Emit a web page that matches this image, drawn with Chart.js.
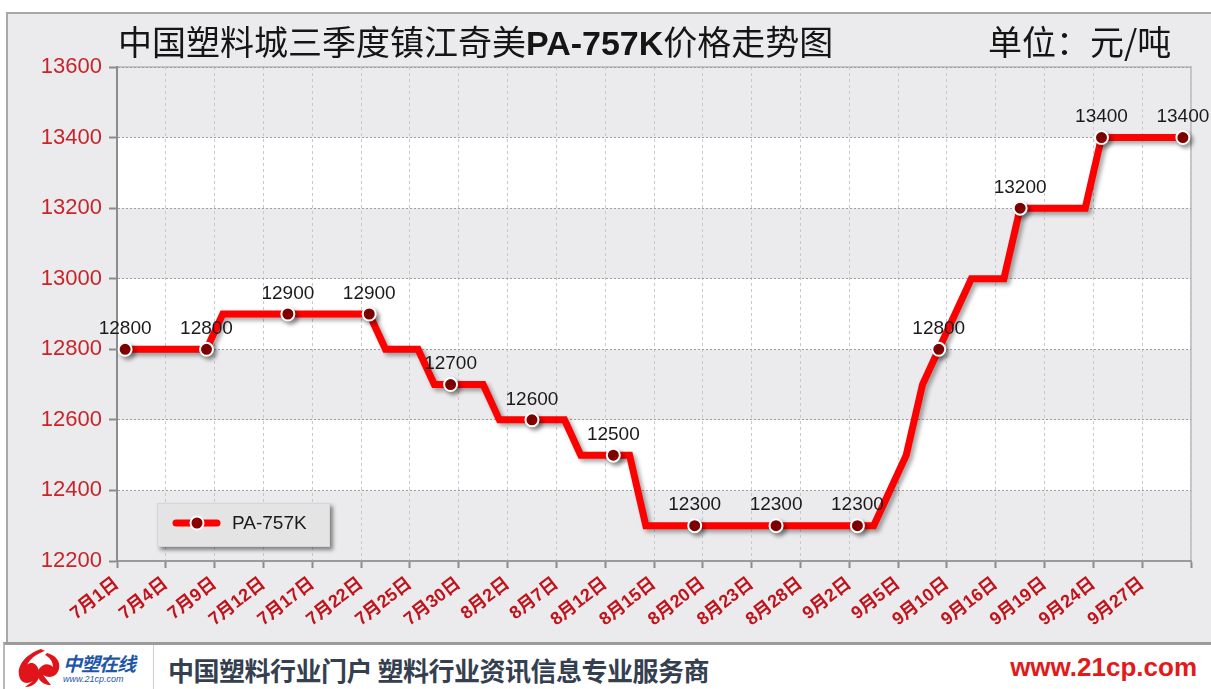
<!DOCTYPE html>
<html>
<head>
<meta charset="utf-8">
<script src="https://cdn.jsdelivr.net/npm/chart.js@4.4.1/dist/chart.umd.min.js"></script>
<style>
    html, body { margin: 0; padding: 0; background: #fff; }
    body { width: 1211px; height: 689px; position: relative; overflow: hidden; font-family: "Liberation Sans", Arial, "Noto Sans CJK SC", sans-serif; }
    .frame { position: absolute; left: 6px; top: 12px; width: 1210px; height: 631px; background: #EBEBED; border-left: 2px solid #A8A8A8; border-top: 2px solid #A8A8A8; box-sizing: border-box; }
    .chart-wrap { position: absolute; left: 0; top: 0; width: 1211px; height: 645px; }
    .title { position: absolute; left: 118px; top: 21px; font-size: 34px; line-height: 40px; color: #151515; font-family: "Noto Sans CJK SC", sans-serif; white-space: nowrap; }
    .title b { font-family: "Liberation Sans", Arial, sans-serif; font-weight: bold; }
    .unit { position: absolute; left: 988px; top: 21px; font-size: 34px; line-height: 40px; color: #151515; font-family: "Noto Sans CJK SC", sans-serif; white-space: nowrap; }
    .footer { position: absolute; left: 3px; top: 642px; width: 1208px; height: 47px; background: #fff; border-top: 3px solid #9C9C9C; border-left: 2px solid #B8B8B8; box-sizing: border-box; }
    .logo { position: absolute; left: 0; top: 0; width: 148px; height: 44px; border-right: 1px solid #CFCFCF; }
    .logo .cn { position: absolute; left: 58px; top: 4px; font-size: 19px; font-weight: bold; font-style: italic; color: #1F57A8; font-family: "Noto Sans CJK SC", sans-serif; letter-spacing: -1px; }
    .logo .url { position: absolute; left: 58px; top: 29px; font-size: 9px; font-style: italic; color: #1F57A8; }
    .slogan { position: absolute; left: 163px; top: 6px; font-size: 26px; font-weight: bold; color: #34404F; font-family: "Noto Sans CJK SC", sans-serif; white-space: nowrap; letter-spacing: -0.5px; }
    .site { position: absolute; right: 14px; top: 7px; font-size: 26px; font-weight: bold; color: #E21A1A; font-family: "Liberation Sans", Arial, sans-serif; }
</style>
</head>
<body>
<div class="frame"></div>
<div class="chart-wrap"><canvas id="priceChart"></canvas></div>
<div class="title">中国塑料城三季度镇江奇美<b>PA-757K</b>价格走势图</div>
<div class="unit">单位：元/吨</div>
<div class="footer">
    <div class="logo">
        <svg width="58" height="44" style="position:absolute;left:6px;top:0">
            <path d="M30 4 C18 8 6 18 8 30 C9 38 16 40 22 36 L14 42 C24 42 30 34 28 26 C26 18 20 16 16 20 C20 12 28 8 34 6 Z" fill="#E0151B"/>
            <path d="M36 8 C44 10 50 16 48 24 C46 32 38 34 32 30 L40 40 C30 40 24 32 28 24 C32 18 38 18 42 22 C42 16 38 12 34 10 Z" fill="#E0151B"/>
        </svg>
        <div class="cn">中塑在线</div>
        <div class="url">www.21cp.com</div>
    </div>
    <div class="slogan">中国塑料行业门户 塑料行业资讯信息专业服务商</div>
    <div class="site">www.21cp.com</div>
</div>
<script>
// =====================================================
// DATA
// =====================================================
const seriesName = 'PA-757K';

// one entry per trading day, 7/1 .. 9/30
const dates = [
    '7月1日', '7月2日', '7月3日', '7月4日', '7月5日', '7月8日', '7月9日', '7月10日', '7月11日', '7月12日',
    '7月15日', '7月16日', '7月17日', '7月18日', '7月19日', '7月22日', '7月23日', '7月24日', '7月25日', '7月26日',
    '7月29日', '7月30日', '7月31日', '8月1日', '8月2日', '8月5日', '8月6日', '8月7日', '8月8日', '8月9日',
    '8月12日', '8月13日', '8月14日', '8月15日', '8月16日', '8月19日', '8月20日', '8月21日', '8月22日', '8月23日',
    '8月26日', '8月27日', '8月28日', '8月29日', '8月30日', '9月2日', '9月3日', '9月4日', '9月5日', '9月6日',
    '9月9日', '9月10日', '9月11日', '9月12日', '9月16日', '9月17日', '9月18日', '9月19日', '9月20日', '9月23日',
    '9月24日', '9月25日', '9月26日', '9月27日', '9月29日', '9月30日'
];

const prices = [
    12800, 12800, 12800, 12800, 12800, 12800, 12900, 12900, 12900, 12900,
    12900, 12900, 12900, 12900, 12900, 12900, 12800, 12800, 12800, 12700,
    12700, 12700, 12700, 12600, 12600, 12600, 12600, 12600, 12500, 12500,
    12500, 12500, 12300, 12300, 12300, 12300, 12300, 12300, 12300, 12300,
    12300, 12300, 12300, 12300, 12300, 12300, 12300, 12400, 12500, 12700,
    12800, 12900, 13000, 13000, 13000, 13200, 13200, 13200, 13200, 13200,
    13400, 13400, 13400, 13400, 13400, 13400
];

const yTicks = [12200, 12400, 12600, 12800, 13000, 13200, 13400, 13600];
const labelEvery = 3;   // x axis label every 3 days
const markEvery = 5;    // marker + value every 5 days

// =====================================================
// PLUGINS
// =====================================================
const plotBackground = {
    id: 'plotBackground',
    beforeDraw(chart) {
        const { ctx, chartArea: a, scales: { y } } = chart;
        ctx.save();
        for (let i = 0; i < yTicks.length - 1; i++) {
            const top = y.getPixelForValue(yTicks[i + 1]);
            const bot = y.getPixelForValue(yTicks[i]);
            ctx.fillStyle = i % 2 === 0 ? '#EBEBED' : '#FFFFFF';
            ctx.fillRect(a.left, top, a.right - a.left, bot - top);
        }
        ctx.strokeStyle = '#C4C4C4';
        ctx.lineWidth = 2;
        ctx.beginPath();
        ctx.moveTo(a.left, a.top);
        ctx.lineTo(a.right, a.top);
        ctx.lineTo(a.right, a.bottom);
        ctx.stroke();
        ctx.restore();
    }
};

const lineShadow = {
    id: 'lineShadow',
    beforeDatasetsDraw(chart) {
        const ctx = chart.ctx;
        ctx.save();
        ctx.shadowColor = 'rgba(0, 0, 0, 0.35)';
        ctx.shadowBlur = 4;
        ctx.shadowOffsetX = 3;
        ctx.shadowOffsetY = 3;
    },
    afterDatasetsDraw(chart) {
        const ctx = chart.ctx;
        ctx.restore();

        // value labels above the markers
        const meta = chart.getDatasetMeta(0);
        ctx.save();
        ctx.font = '19px "Liberation Sans", Arial, sans-serif';
        ctx.fillStyle = '#1A1A1A';
        ctx.textAlign = 'center';
        ctx.textBaseline = 'bottom';
        meta.data.forEach((pt, i) => {
            if (i % markEvery !== 0) return;
            ctx.fillText(String(prices[i]), pt.x, pt.y - 11);
        });
        ctx.restore();
    }
};

const boxLegend = {
    id: 'boxLegend',
    afterDraw(chart) {
        const ctx = chart.ctx;
        const ds = chart.data.datasets[0];
        const x = 157, y = 503, w = 173, h = 44;
        ctx.save();
        ctx.shadowColor = 'rgba(0, 0, 0, 0.45)';
        ctx.shadowBlur = 4;
        ctx.shadowOffsetX = 3;
        ctx.shadowOffsetY = 3;
        ctx.fillStyle = '#E4E4E4';
        ctx.fillRect(x, y, w, h);
        ctx.restore();

        ctx.save();
        ctx.strokeStyle = '#D6D6D6';
        ctx.lineWidth = 1;
        ctx.strokeRect(x + 0.5, y + 0.5, w - 1, h - 1);
        const cy = y + 20;
        ctx.strokeStyle = ds.borderColor;
        ctx.lineWidth = ds.borderWidth;
        ctx.lineCap = 'round';
        ctx.beginPath();
        ctx.moveTo(176, cy);
        ctx.lineTo(217, cy);
        ctx.stroke();
        ctx.beginPath();
        ctx.arc(197, cy, 6.5, 0, Math.PI * 2);
        ctx.fillStyle = ds.pointBackgroundColor;
        ctx.fill();
        ctx.lineWidth = 2;
        ctx.strokeStyle = '#FFFFFF';
        ctx.stroke();
        ctx.font = '19px "Liberation Sans", Arial, sans-serif';
        ctx.fillStyle = '#1A1A1A';
        ctx.textBaseline = 'middle';
        ctx.fillText(ds.label, 232, cy + 1);
        ctx.restore();
    }
};

// =====================================================
// CHART
// =====================================================
const ctx = document.getElementById('priceChart').getContext('2d');
const priceChart = new Chart(ctx, {
    type: 'line',
    data: {
        datasets: [{
            label: seriesName,
            data: prices.map((p, i) => ({ x: i + 0.5, y: p })),
            borderColor: '#FF0000',
            borderWidth: 7,
            borderJoinStyle: 'miter',
            tension: 0,
            pointRadius: c => (c.dataIndex % markEvery === 0 ? 6.5 : 0),
            pointBackgroundColor: '#8A0000',
            pointBorderColor: '#FFFFFF',
            pointBorderWidth: 2,
            clip: false
        }]
    },
    options: {
        responsive: true,
        maintainAspectRatio: false,
        animation: false,
        events: [],
        layout: { padding: { top: 67, right: 20, left: 0, bottom: 0 } },
        plugins: { legend: { display: false }, tooltip: { enabled: false } },
        scales: {
            x: {
                type: 'linear',
                min: 0,
                max: dates.length,
                afterFit: s => { s.height = 84; },
                afterBuildTicks: s => {
                    s.ticks = [];
                    for (let v = 0; v <= dates.length; v += labelEvery) s.ticks.push({ value: v });
                },
                ticks: {
                    autoSkip: false,
                    minRotation: 38,
                    maxRotation: 38,
                    padding: 5,
                    color: '#C0141C',
                    font: { size: 18, weight: 'bold', family: '"Liberation Sans", Arial, "Noto Sans CJK SC", sans-serif' },
                    callback: v => dates[v] || ''
                },
                grid: { color: '#C9C9C9', lineWidth: 1, tickLength: 7, tickColor: '#8C8C8C', tickWidth: 2 },
                border: { color: '#9A9A9A', width: 2, dash: [3, 3] }
            },
            y: {
                min: yTicks[0],
                max: yTicks[yTicks.length - 1],
                afterFit: s => { s.width = 117; },
                afterBuildTicks: s => { s.ticks = yTicks.map(v => ({ value: v })); },
                ticks: {
                    padding: 7,
                    color: '#C8252B',
                    font: { size: 22, family: '"Liberation Sans", Arial, sans-serif' },
                    callback: v => String(v)
                },
                grid: { color: '#9E9E9E', lineWidth: 1, tickLength: 8, tickColor: '#8C8C8C', tickWidth: 2 },
                border: { color: '#8C8C8C', width: 2, dash: [2, 2] }
            }
        }
    },
    plugins: [plotBackground, lineShadow, boxLegend]
});
</script>
</body>
</html>
